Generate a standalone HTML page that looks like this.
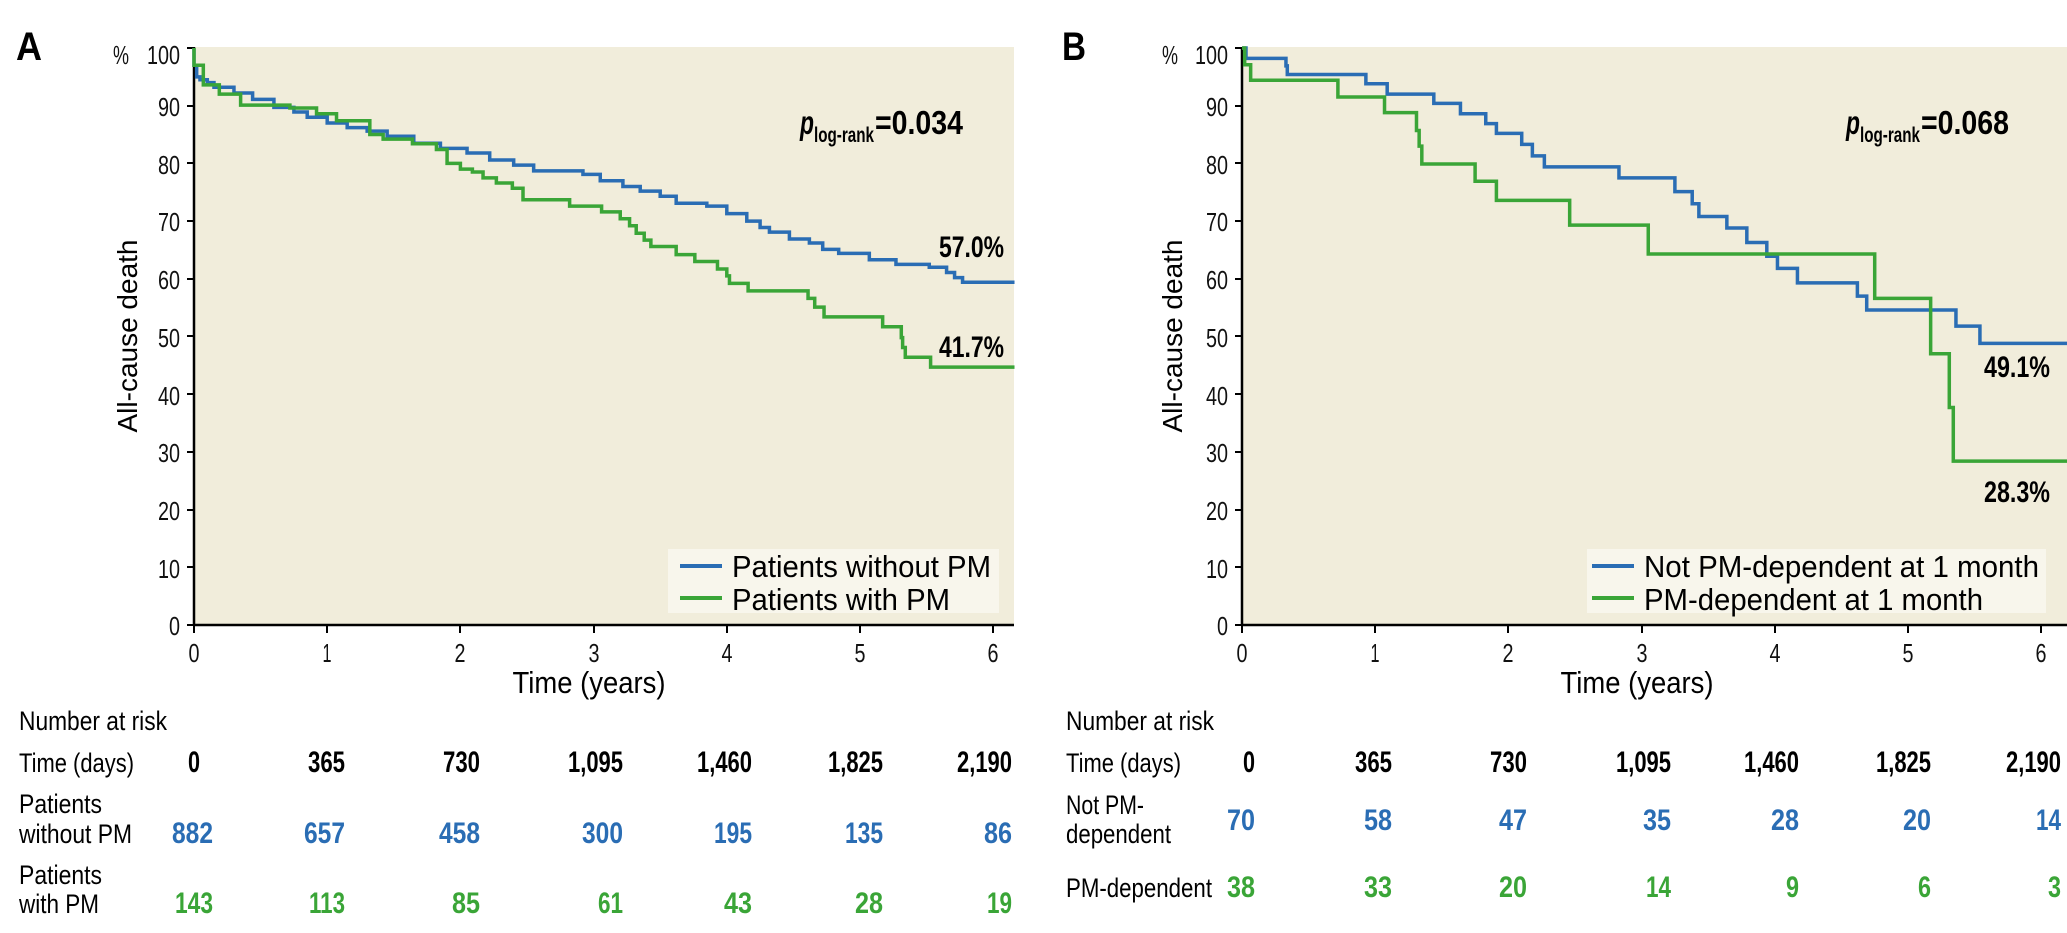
<!DOCTYPE html>
<html><head><meta charset="utf-8"><style>
html,body{margin:0;padding:0;background:#fff;}
svg{display:block;}
text{font-family:"Liberation Sans Narrow","Liberation Sans",sans-serif;}
.tk{font-size:26px;fill:#111;}
.lab{font-size:27px;fill:#000;}
.nb{font-size:30px;font-weight:bold;}
</style></head><body>
<svg width="2067" height="933" viewBox="0 0 2067 933" xmlns="http://www.w3.org/2000/svg">
<rect width="2067" height="933" fill="#fff"/>
<!-- Panel A -->
<rect x="194" y="47" width="820" height="578" fill="#f1eddb"/>
<text x="16" y="60" font-size="40" font-weight="bold" textLength="26" lengthAdjust="spacingAndGlyphs">A</text>
<text x="113" y="64" class="tk" textLength="16" lengthAdjust="spacingAndGlyphs">%</text>
<g class="tk" text-anchor="end">
<text x="180" y="64" textLength="33" lengthAdjust="spacingAndGlyphs">100</text><text x="180" y="116" textLength="22" lengthAdjust="spacingAndGlyphs">90</text><text x="180" y="174" textLength="22" lengthAdjust="spacingAndGlyphs">80</text><text x="180" y="231" textLength="22" lengthAdjust="spacingAndGlyphs">70</text><text x="180" y="289" textLength="22" lengthAdjust="spacingAndGlyphs">60</text><text x="180" y="347" textLength="22" lengthAdjust="spacingAndGlyphs">50</text><text x="180" y="405" textLength="22" lengthAdjust="spacingAndGlyphs">40</text><text x="180" y="462" textLength="22" lengthAdjust="spacingAndGlyphs">30</text><text x="180" y="520" textLength="22" lengthAdjust="spacingAndGlyphs">20</text><text x="180" y="578" textLength="22" lengthAdjust="spacingAndGlyphs">10</text><text x="180" y="635" textLength="11" lengthAdjust="spacingAndGlyphs">0</text>
</g>
<g stroke="#000" stroke-width="2">
<line x1="187" y1="48" x2="194" y2="48"/><line x1="187" y1="106" x2="194" y2="106"/><line x1="187" y1="163" x2="194" y2="163"/><line x1="187" y1="221" x2="194" y2="221"/><line x1="187" y1="279" x2="194" y2="279"/><line x1="187" y1="336" x2="194" y2="336"/><line x1="187" y1="394" x2="194" y2="394"/><line x1="187" y1="452" x2="194" y2="452"/><line x1="187" y1="510" x2="194" y2="510"/><line x1="187" y1="567" x2="194" y2="567"/><line x1="187" y1="625" x2="194" y2="625"/>
<line x1="194" y1="625" x2="194" y2="633"/><line x1="327" y1="625" x2="327" y2="633"/><line x1="460" y1="625" x2="460" y2="633"/><line x1="594" y1="625" x2="594" y2="633"/><line x1="727" y1="625" x2="727" y2="633"/><line x1="860" y1="625" x2="860" y2="633"/><line x1="993" y1="625" x2="993" y2="633"/>
</g>
<line x1="194" y1="47" x2="194" y2="626" stroke="#000" stroke-width="2.5"/>
<line x1="193" y1="625" x2="1014" y2="625" stroke="#000" stroke-width="2.5"/>
<g class="tk" text-anchor="middle">
<text x="194" y="662" textLength="11" lengthAdjust="spacingAndGlyphs">0</text><text x="327" y="662" textLength="9" lengthAdjust="spacingAndGlyphs">1</text><text x="460" y="662" textLength="11" lengthAdjust="spacingAndGlyphs">2</text><text x="594" y="662" textLength="11" lengthAdjust="spacingAndGlyphs">3</text><text x="727" y="662" textLength="11" lengthAdjust="spacingAndGlyphs">4</text><text x="860" y="662" textLength="11" lengthAdjust="spacingAndGlyphs">5</text><text x="993" y="662" textLength="11" lengthAdjust="spacingAndGlyphs">6</text>
</g>
<text x="589" y="693" font-size="31" text-anchor="middle" textLength="153" lengthAdjust="spacingAndGlyphs">Time (years)</text>
<text transform="translate(137,336) rotate(-90)" font-size="28" text-anchor="middle" style="font-family:'Liberation Sans',sans-serif">All-cause death</text>
<g transform="translate(194,625) scale(133.2,-5.77)" fill="none" stroke-width="3.5">
<path vector-effect="non-scaling-stroke" stroke="#2a6db4" d="M0 100 V97 H0.02 V95 H0.045 V94.5 H0.1 V94 H0.15 V93.2 H0.3 V92.2 H0.44 V91.1 H0.6 V89.7 H0.75 V88.9 H0.85 V88 H1.0 V87 H1.15 V86.2 H1.3 V85.6 H1.45 V84.7 H1.65 V83.5 H1.85 V82.6 H2.05 V81.8 H2.22 V80.6 H2.4 V79.7 H2.55 V78.7 H2.8 V78.7 H2.92 V78.1 H3.05 V77 H3.22 V76 H3.35 V75.2 H3.5 V74.3 H3.62 V73.1 H3.85 V72.6 H4.0 V71.3 H4.15 V70 H4.25 V68.9 H4.32 V68.1 H4.47 V66.9 H4.62 V66.2 H4.72 V65.1 H4.84 V64.4 H5.07 V63.3 H5.27 V62.5 H5.52 V62 H5.65 V61.1 H5.71 V60.2 H5.77 V59.4 H6.16"/>
<path vector-effect="non-scaling-stroke" stroke="#3aa537" d="M0 100 V97 H0.07 V93.6 H0.19 V92 H0.35 V90.1 H0.72 V89.6 H0.92 V88.6 H1.07 V87.4 H1.32 V85 H1.42 V84.2 H1.64 V83.4 H1.82 V82.4 H1.9 V80 H2.0 V79 H2.09 V78.5 H2.17 V77.5 H2.27 V76.6 H2.39 V75.7 H2.47 V73.7 H2.82 V72.6 H3.06 V71.6 H3.2 V70.4 H3.27 V69.2 H3.32 V67.9 H3.38 V66.7 H3.43 V65.6 H3.62 V64.2 H3.76 V63 H3.93 V61.7 H4.0 V60.5 H4.02 V59.2 H4.16 V57.9 H4.61 V56.6 H4.66 V55.1 H4.73 V53.4 H5.17 V51.7 H5.31 V49.8 H5.32 V48.1 H5.34 V46.4 H5.53 V44.7 H6.16"/>
</g>
<text x="800" y="134" font-size="33" font-weight="bold" font-style="italic" textLength="14" lengthAdjust="spacingAndGlyphs">p</text>
<text x="814" y="142" font-size="21" font-weight="bold" textLength="60" lengthAdjust="spacingAndGlyphs">log-rank</text>
<text x="875" y="134" font-size="33" font-weight="bold" textLength="88" lengthAdjust="spacingAndGlyphs">=0.034</text>
<text x="939" y="257" font-size="30" font-weight="bold" textLength="65" lengthAdjust="spacingAndGlyphs">57.0%</text>
<text x="939" y="357" font-size="30" font-weight="bold" textLength="65" lengthAdjust="spacingAndGlyphs">41.7%</text>
<rect x="668" y="549" width="331" height="64" fill="#f8f6ec"/>
<line x1="680" y1="566" x2="722" y2="566" stroke="#2a6db4" stroke-width="4"/>
<line x1="680" y1="598" x2="722" y2="598" stroke="#3aa537" stroke-width="4"/>
<text x="732" y="577" font-size="31" textLength="259" lengthAdjust="spacingAndGlyphs">Patients without PM</text>
<text x="732" y="610" font-size="31" textLength="218" lengthAdjust="spacingAndGlyphs">Patients with PM</text>
<!-- risk table A -->
<g class="lab">
<text x="19" y="730" textLength="148" lengthAdjust="spacingAndGlyphs">Number at risk</text>
<text x="19" y="772" textLength="115" lengthAdjust="spacingAndGlyphs">Time (days)</text>
<text x="19" y="813" textLength="83" lengthAdjust="spacingAndGlyphs">Patients</text><text x="19" y="843" textLength="113" lengthAdjust="spacingAndGlyphs">without PM</text>
<text x="19" y="884" textLength="83" lengthAdjust="spacingAndGlyphs">Patients</text><text x="19" y="913" textLength="80" lengthAdjust="spacingAndGlyphs">with PM</text>
</g>
<g class="nb" text-anchor="end" fill="#000">
<text x="200" y="772" textLength="12" lengthAdjust="spacingAndGlyphs">0</text><text x="345" y="772" textLength="37" lengthAdjust="spacingAndGlyphs">365</text><text x="480" y="772" textLength="37" lengthAdjust="spacingAndGlyphs">730</text><text x="623" y="772" textLength="55" lengthAdjust="spacingAndGlyphs">1,095</text><text x="752" y="772" textLength="55" lengthAdjust="spacingAndGlyphs">1,460</text><text x="883" y="772" textLength="55" lengthAdjust="spacingAndGlyphs">1,825</text><text x="1012" y="772" textLength="55" lengthAdjust="spacingAndGlyphs">2,190</text>
</g>
<g class="nb" text-anchor="end" fill="#2a6db4">
<text x="213" y="843" textLength="41" lengthAdjust="spacingAndGlyphs">882</text><text x="345" y="843" textLength="41" lengthAdjust="spacingAndGlyphs">657</text><text x="480" y="843" textLength="41" lengthAdjust="spacingAndGlyphs">458</text><text x="623" y="843" textLength="41" lengthAdjust="spacingAndGlyphs">300</text><text x="752" y="843" textLength="38" lengthAdjust="spacingAndGlyphs">195</text><text x="883" y="843" textLength="38" lengthAdjust="spacingAndGlyphs">135</text><text x="1012" y="843" textLength="28" lengthAdjust="spacingAndGlyphs">86</text>
</g>
<g class="nb" text-anchor="end" fill="#3aa537">
<text x="213" y="913" textLength="38" lengthAdjust="spacingAndGlyphs">143</text><text x="345" y="913" textLength="36" lengthAdjust="spacingAndGlyphs">113</text><text x="480" y="913" textLength="28" lengthAdjust="spacingAndGlyphs">85</text><text x="623" y="913" textLength="25" lengthAdjust="spacingAndGlyphs">61</text><text x="752" y="913" textLength="28" lengthAdjust="spacingAndGlyphs">43</text><text x="883" y="913" textLength="28" lengthAdjust="spacingAndGlyphs">28</text><text x="1012" y="913" textLength="25" lengthAdjust="spacingAndGlyphs">19</text>
</g>

<!-- Panel B -->
<rect x="1242" y="47" width="825" height="578" fill="#f1eddb"/>
<text x="1062" y="60" font-size="40" font-weight="bold" textLength="24" lengthAdjust="spacingAndGlyphs">B</text>
<text x="1162" y="64" class="tk" textLength="16" lengthAdjust="spacingAndGlyphs">%</text>
<g class="tk" text-anchor="end">
<text x="1228" y="64" textLength="33" lengthAdjust="spacingAndGlyphs">100</text><text x="1228" y="116" textLength="22" lengthAdjust="spacingAndGlyphs">90</text><text x="1228" y="174" textLength="22" lengthAdjust="spacingAndGlyphs">80</text><text x="1228" y="231" textLength="22" lengthAdjust="spacingAndGlyphs">70</text><text x="1228" y="289" textLength="22" lengthAdjust="spacingAndGlyphs">60</text><text x="1228" y="347" textLength="22" lengthAdjust="spacingAndGlyphs">50</text><text x="1228" y="405" textLength="22" lengthAdjust="spacingAndGlyphs">40</text><text x="1228" y="462" textLength="22" lengthAdjust="spacingAndGlyphs">30</text><text x="1228" y="520" textLength="22" lengthAdjust="spacingAndGlyphs">20</text><text x="1228" y="578" textLength="22" lengthAdjust="spacingAndGlyphs">10</text><text x="1228" y="635" textLength="11" lengthAdjust="spacingAndGlyphs">0</text>
</g>
<g stroke="#000" stroke-width="2">
<line x1="1235" y1="48" x2="1242" y2="48"/><line x1="1235" y1="106" x2="1242" y2="106"/><line x1="1235" y1="163" x2="1242" y2="163"/><line x1="1235" y1="221" x2="1242" y2="221"/><line x1="1235" y1="279" x2="1242" y2="279"/><line x1="1235" y1="336" x2="1242" y2="336"/><line x1="1235" y1="394" x2="1242" y2="394"/><line x1="1235" y1="452" x2="1242" y2="452"/><line x1="1235" y1="510" x2="1242" y2="510"/><line x1="1235" y1="567" x2="1242" y2="567"/><line x1="1235" y1="625" x2="1242" y2="625"/>
<line x1="1242" y1="625" x2="1242" y2="633"/><line x1="1375" y1="625" x2="1375" y2="633"/><line x1="1508" y1="625" x2="1508" y2="633"/><line x1="1642" y1="625" x2="1642" y2="633"/><line x1="1775" y1="625" x2="1775" y2="633"/><line x1="1908" y1="625" x2="1908" y2="633"/><line x1="2041" y1="625" x2="2041" y2="633"/>
</g>
<line x1="1242" y1="47" x2="1242" y2="626" stroke="#000" stroke-width="2.5"/>
<line x1="1241" y1="625" x2="2067" y2="625" stroke="#000" stroke-width="2.5"/>
<g class="tk" text-anchor="middle">
<text x="1242" y="662" textLength="11" lengthAdjust="spacingAndGlyphs">0</text><text x="1375" y="662" textLength="9" lengthAdjust="spacingAndGlyphs">1</text><text x="1508" y="662" textLength="11" lengthAdjust="spacingAndGlyphs">2</text><text x="1642" y="662" textLength="11" lengthAdjust="spacingAndGlyphs">3</text><text x="1775" y="662" textLength="11" lengthAdjust="spacingAndGlyphs">4</text><text x="1908" y="662" textLength="11" lengthAdjust="spacingAndGlyphs">5</text><text x="2041" y="662" textLength="11" lengthAdjust="spacingAndGlyphs">6</text>
</g>
<text x="1637" y="693" font-size="31" text-anchor="middle" textLength="153" lengthAdjust="spacingAndGlyphs">Time (years)</text>
<text transform="translate(1182,336) rotate(-90)" font-size="28" text-anchor="middle" style="font-family:'Liberation Sans',sans-serif">All-cause death</text>
<g transform="translate(1242,625) scale(133.2,-5.77)" fill="none" stroke-width="3.5">
<path vector-effect="non-scaling-stroke" stroke="#2a6db4" d="M0 100 H0.03 V98.2 H0.33 V96.9 H0.34 V95.4 H0.93 V93.8 H1.09 V92 H1.44 V90.4 H1.64 V88.6 H1.83 V86.9 H1.91 V85.2 H2.1 V83.3 H2.18 V81.3 H2.27 V79.4 H2.83 V77.5 H3.25 V75.1 H3.38 V73 H3.43 V70.8 H3.64 V68.8 H3.79 V66.3 H3.94 V63.9 H4.02 V61.8 H4.17 V59.3 H4.62 V57 H4.69 V54.6 H5.36 V51.8 H5.54 V48.8 H6.2"/>
<path vector-effect="non-scaling-stroke" stroke="#3aa537" d="M0 100 H0.02 V97.1 H0.065 V94.4 H0.72 V91.5 H1.07 V88.8 H1.31 V85.7 H1.33 V83 H1.35 V79.9 H1.75 V76.9 H1.91 V73.6 H2.46 V69.3 H3.05 V64.3 H4.75 V56.6 H5.17 V47 H5.31 V37.7 H5.34 V28.4 H6.2"/>
</g>
<text x="1846" y="134" font-size="33" font-weight="bold" font-style="italic" textLength="14" lengthAdjust="spacingAndGlyphs">p</text>
<text x="1860" y="142" font-size="21" font-weight="bold" textLength="60" lengthAdjust="spacingAndGlyphs">log-rank</text>
<text x="1921" y="134" font-size="33" font-weight="bold" textLength="88" lengthAdjust="spacingAndGlyphs">=0.068</text>
<text x="1984" y="377" font-size="30" font-weight="bold" textLength="66" lengthAdjust="spacingAndGlyphs">49.1%</text>
<text x="1984" y="502" font-size="30" font-weight="bold" textLength="66" lengthAdjust="spacingAndGlyphs">28.3%</text>
<rect x="1587" y="549" width="459" height="64" fill="#f8f6ec"/>
<line x1="1592" y1="566" x2="1634" y2="566" stroke="#2a6db4" stroke-width="4"/>
<line x1="1592" y1="598" x2="1634" y2="598" stroke="#3aa537" stroke-width="4"/>
<text x="1644" y="577" font-size="31" textLength="395" lengthAdjust="spacingAndGlyphs">Not PM-dependent at 1 month</text>
<text x="1644" y="610" font-size="31" textLength="339" lengthAdjust="spacingAndGlyphs">PM-dependent at 1 month</text>
<!-- risk table B -->
<g class="lab">
<text x="1066" y="730" textLength="148" lengthAdjust="spacingAndGlyphs">Number at risk</text>
<text x="1066" y="772" textLength="115" lengthAdjust="spacingAndGlyphs">Time (days)</text>
<text x="1066" y="814" textLength="78" lengthAdjust="spacingAndGlyphs">Not PM-</text><text x="1066" y="843" textLength="105" lengthAdjust="spacingAndGlyphs">dependent</text>
<text x="1066" y="897" textLength="146" lengthAdjust="spacingAndGlyphs">PM-dependent</text>
</g>
<g class="nb" text-anchor="end" fill="#000">
<text x="1255" y="772" textLength="12" lengthAdjust="spacingAndGlyphs">0</text><text x="1392" y="772" textLength="37" lengthAdjust="spacingAndGlyphs">365</text><text x="1527" y="772" textLength="37" lengthAdjust="spacingAndGlyphs">730</text><text x="1671" y="772" textLength="55" lengthAdjust="spacingAndGlyphs">1,095</text><text x="1799" y="772" textLength="55" lengthAdjust="spacingAndGlyphs">1,460</text><text x="1931" y="772" textLength="55" lengthAdjust="spacingAndGlyphs">1,825</text><text x="2061" y="772" textLength="55" lengthAdjust="spacingAndGlyphs">2,190</text>
</g>
<g class="nb" text-anchor="end" fill="#2a6db4">
<text x="1255" y="830" textLength="28" lengthAdjust="spacingAndGlyphs">70</text><text x="1392" y="830" textLength="28" lengthAdjust="spacingAndGlyphs">58</text><text x="1527" y="830" textLength="28" lengthAdjust="spacingAndGlyphs">47</text><text x="1671" y="830" textLength="28" lengthAdjust="spacingAndGlyphs">35</text><text x="1799" y="830" textLength="28" lengthAdjust="spacingAndGlyphs">28</text><text x="1931" y="830" textLength="28" lengthAdjust="spacingAndGlyphs">20</text><text x="2061" y="830" textLength="25" lengthAdjust="spacingAndGlyphs">14</text>
</g>
<g class="nb" text-anchor="end" fill="#3aa537">
<text x="1255" y="897" textLength="28" lengthAdjust="spacingAndGlyphs">38</text><text x="1392" y="897" textLength="28" lengthAdjust="spacingAndGlyphs">33</text><text x="1527" y="897" textLength="28" lengthAdjust="spacingAndGlyphs">20</text><text x="1671" y="897" textLength="25" lengthAdjust="spacingAndGlyphs">14</text><text x="1799" y="897" textLength="13" lengthAdjust="spacingAndGlyphs">9</text><text x="1931" y="897" textLength="13" lengthAdjust="spacingAndGlyphs">6</text><text x="2061" y="897" textLength="13" lengthAdjust="spacingAndGlyphs">3</text>
</g>
</svg>
</body></html>
